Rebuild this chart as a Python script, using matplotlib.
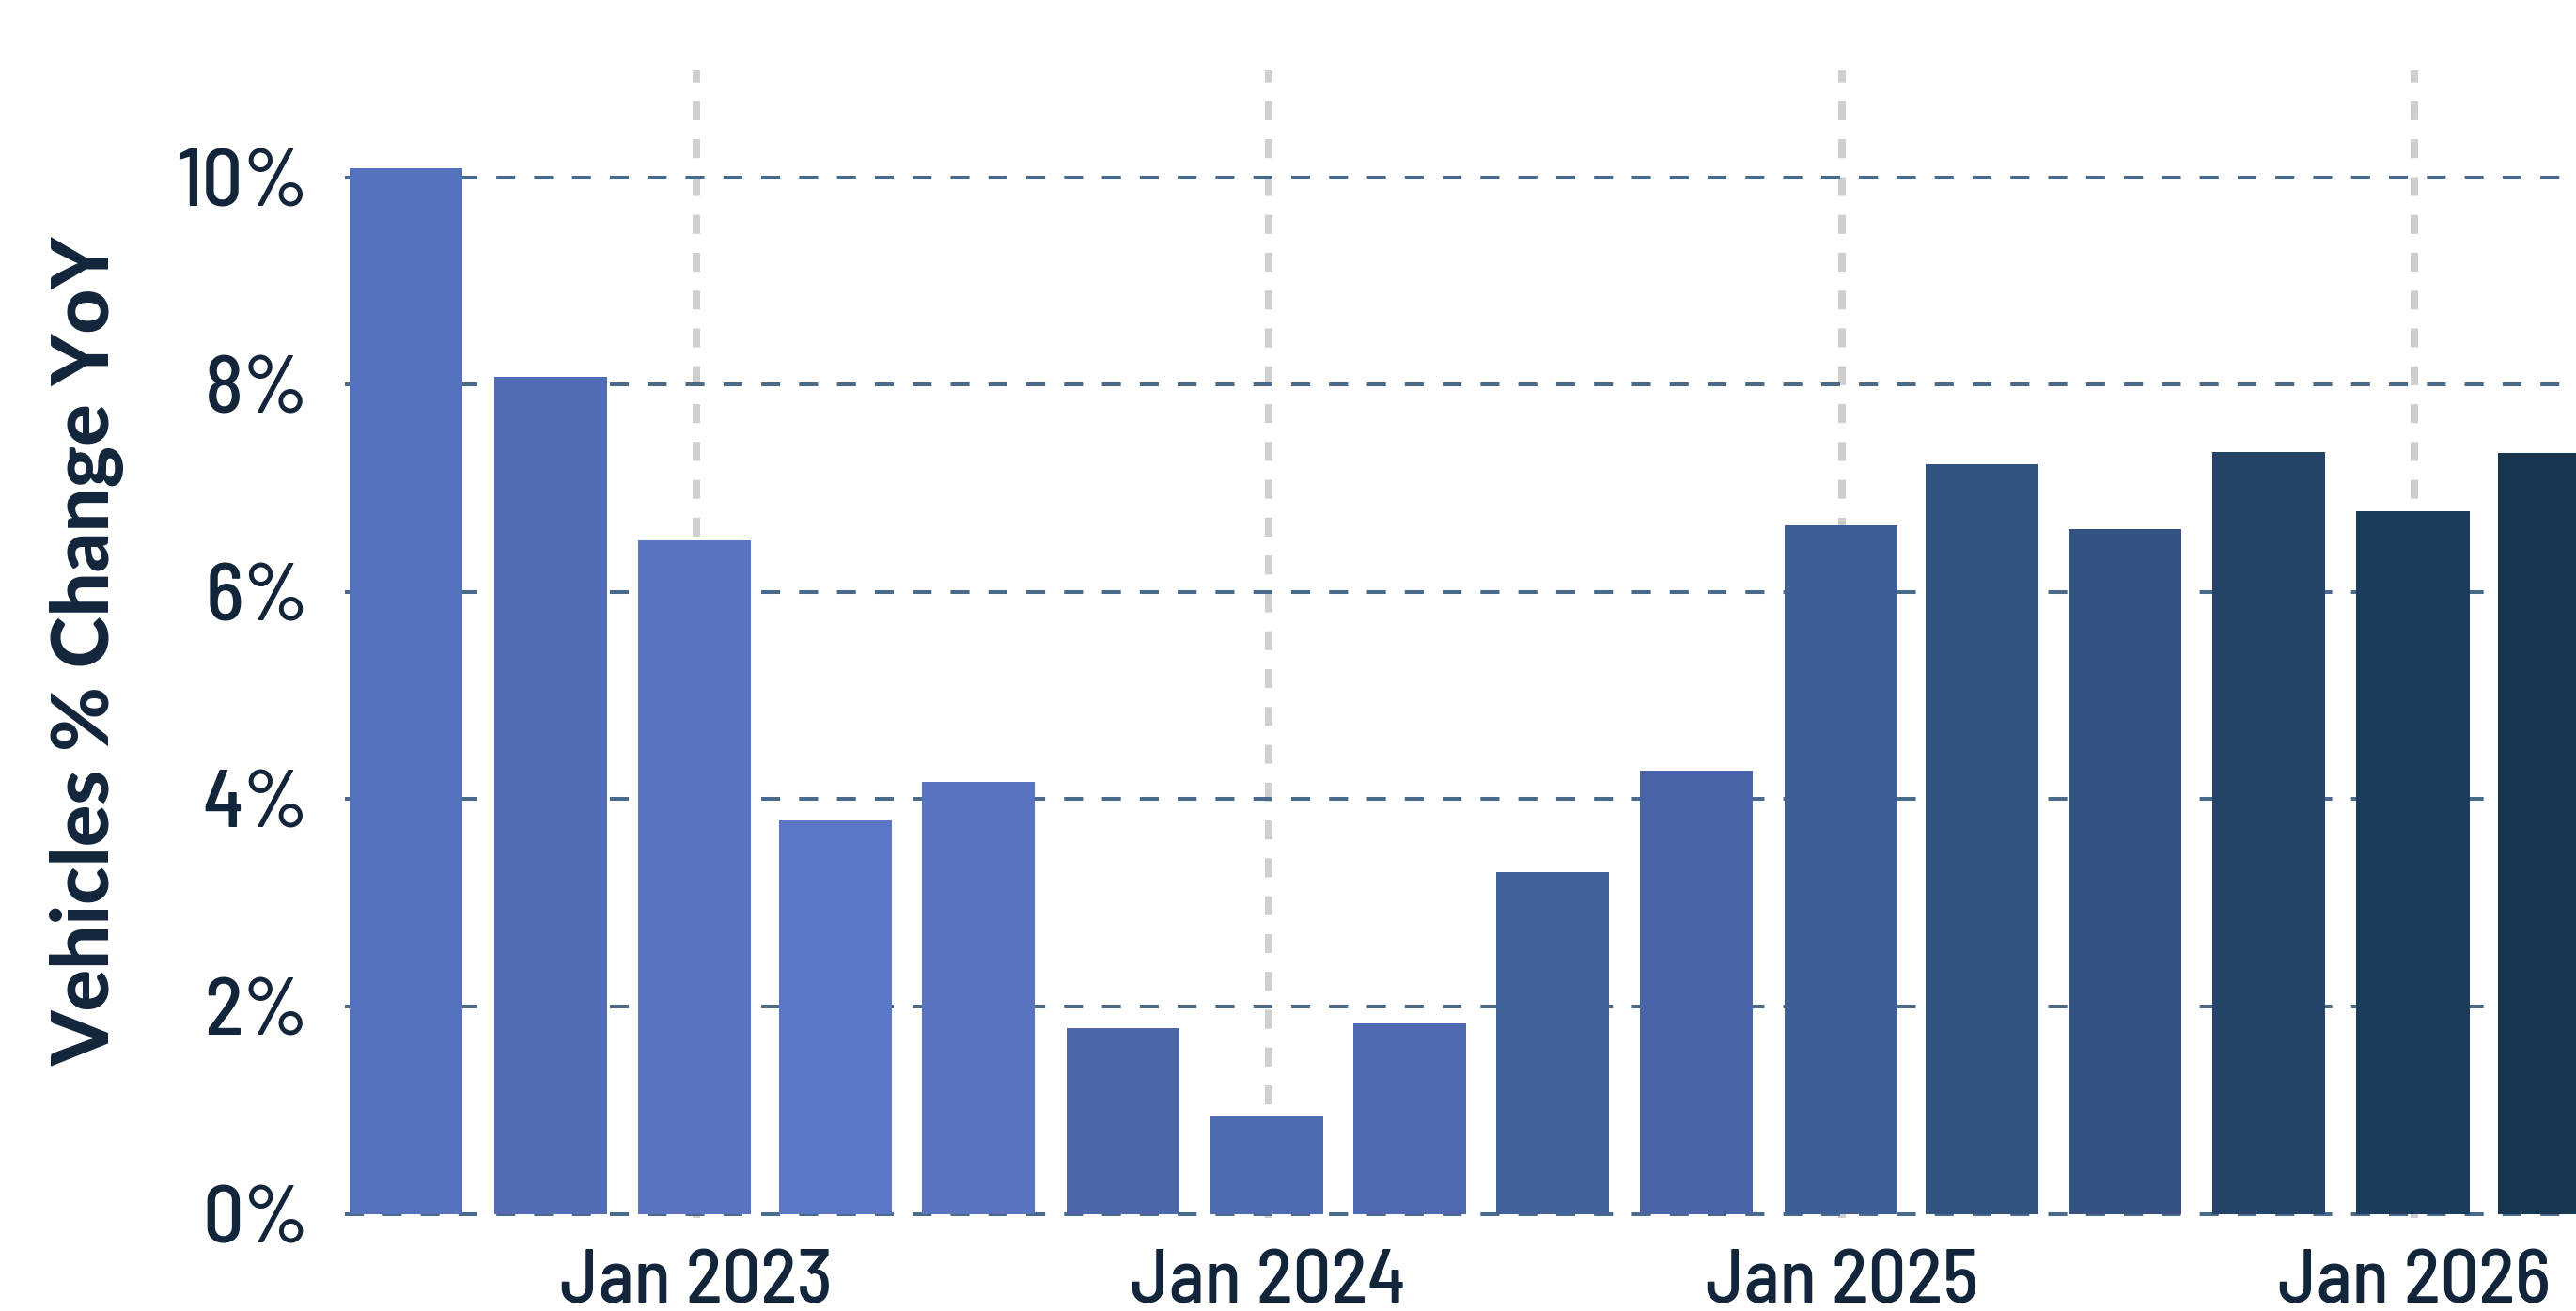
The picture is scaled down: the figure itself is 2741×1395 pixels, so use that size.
import matplotlib
matplotlib.use("Agg")
import matplotlib.pyplot as plt
import matplotlib.dates as mdates
from matplotlib.ticker import FuncFormatter
import pandas as pd

# quarterly year-over-year change in vehicles
quarters = pd.to_datetime([
    "2022-06-30", "2022-09-30", "2022-12-31", "2023-03-31",
    "2023-06-30", "2023-09-30", "2023-12-31", "2024-03-31",
    "2024-06-30", "2024-09-30", "2024-12-31", "2025-03-31",
    "2025-06-30", "2025-09-30", "2025-12-31", "2026-03-31",
])
pct_change = [10.09, 8.08, 6.50, 3.80, 4.17, 1.79, 0.94, 1.84,
              3.30, 4.28, 6.64, 7.23, 6.61, 7.35, 6.78, 7.34]
bar_colors = ["#5672bd", "#526cb5", "#5a74c2", "#5d77c7", "#5a74c0", "#4b67aa",
              "#4e6ab0", "#4e69b1", "#42609a", "#4a65a7", "#405e96", "#32527f",
              "#345383", "#234468", "#1c3c5d", "#173651"]
y_ticks = [0, 2, 4, 6, 8, 10]
year_ticks = pd.to_datetime(["2023-01-01", "2024-01-01", "2025-01-01", "2026-01-01"])

TEXT = "#13253a"
TICK_FONT = ["Barlow Semi Condensed", "Roboto Condensed", "IBM Plex Sans Condensed", "DejaVu Sans"]

fig = plt.figure(figsize=(2741 / 200, 1395 / 200), dpi=200)
ax = fig.add_axes([0.134, 0.071, 0.866, 0.875])

# vertical year lines behind the bars
for d in year_ticks:
    ax.axvline(d, color="#cfcfcf", lw=2.9, zorder=0, dashes=(2.5, 2.5))
# horizontal grid
for y in y_ticks:
    ax.axhline(y, color="#4a6a8a", lw=1.45, zorder=0.5, dashes=(5, 5))

ax.bar(quarters, pct_change, width=72, color=bar_colors, zorder=2)

ax.set_xlim(pd.Timestamp("2022-05-22"), pd.Timestamp("2026-04-14"))
ax.set_ylim(-0.04, 11.03)
ax.set_yticks(y_ticks)
ax.yaxis.set_major_formatter(FuncFormatter(lambda v, _: f"{v:.0f}%"))
ax.set_xticks(year_ticks)
ax.xaxis.set_major_formatter(mdates.DateFormatter("%b %Y"))

ax.tick_params(axis="both", length=0, colors=TEXT)
ax.tick_params(axis="y", pad=14)
ax.tick_params(axis="x", pad=12)
for lab in ax.get_yticklabels():
    lab.set_family(TICK_FONT)
    lab.set_fontsize(31)
    lab.set_fontweight("medium")
for lab in ax.get_xticklabels():
    lab.set_family(TICK_FONT)
    lab.set_fontsize(29)
    lab.set_fontweight("medium")

for s in ax.spines.values():
    s.set_visible(False)

ax.set_ylabel("Vehicles % Change YoY", fontsize=30, fontweight=900,
              family=["Lato", "DejaVu Sans"], color=TEXT)
ax.yaxis.set_label_coords(-0.0986, 0.494)

fig.savefig("out.png", dpi=200)
